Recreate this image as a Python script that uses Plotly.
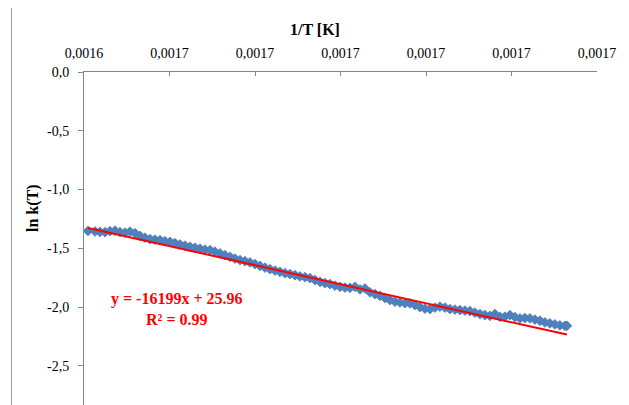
import plotly.graph_objects as go

# ---- data ----
INV_T = [
    0.00168452, 0.00168534, 0.00168592, 0.00168651, 0.00168709, 0.00168768,
    0.00168826, 0.00168885, 0.00168943, 0.00169002, 0.00169060, 0.00169118,
    0.00169177, 0.00169235, 0.00169294, 0.00169352, 0.00169411, 0.00169469,
    0.00169528, 0.00169586, 0.00169645, 0.00169703, 0.00169762, 0.00169820,
    0.00169879, 0.00169937, 0.00169996, 0.00170054, 0.00170113, 0.00170171,
    0.00170230, 0.00170288, 0.00170346, 0.00170405, 0.00170463, 0.00170522,
    0.00170580, 0.00170639, 0.00170697, 0.00170756, 0.00170814, 0.00170873,
    0.00170931, 0.00170990, 0.00171048, 0.00171107, 0.00171165, 0.00171223,
    0.00171282, 0.00171340, 0.00171399, 0.00171457, 0.00171516, 0.00171574,
    0.00171633, 0.00171691, 0.00171750, 0.00171808, 0.00171867, 0.00171925,
    0.00171984, 0.00172042, 0.00172100, 0.00172159, 0.00172217, 0.00172276,
    0.00172334, 0.00172393, 0.00172451, 0.00172510, 0.00172568, 0.00172627,
    0.00172685, 0.00172744, 0.00172802, 0.00172861, 0.00172919, 0.00172977,
    0.00173036, 0.00173094, 0.00173153, 0.00173211, 0.00173270, 0.00173328,
    0.00173387, 0.00173445, 0.00173504, 0.00173562, 0.00173621, 0.00173679,
    0.00173738, 0.00173796, 0.00173854, 0.00173913, 0.00173971, 0.00174030,
    0.00174053,
]
LN_K = [
    -1.353, -1.357, -1.361, -1.363, -1.355, -1.350,
    -1.363, -1.367, -1.359, -1.372, -1.395, -1.410,
    -1.423, -1.427, -1.431, -1.440, -1.446, -1.457,
    -1.468, -1.478, -1.488, -1.495, -1.503, -1.512,
    -1.516, -1.529, -1.544, -1.559, -1.573, -1.588,
    -1.601, -1.610, -1.621, -1.635, -1.650, -1.665,
    -1.678, -1.690, -1.701, -1.712, -1.720, -1.729,
    -1.740, -1.746, -1.754, -1.771, -1.786, -1.797,
    -1.805, -1.818, -1.828, -1.835, -1.837, -1.828,
    -1.850, -1.842, -1.876, -1.890, -1.905, -1.924,
    -1.941, -1.954, -1.961, -1.967, -1.969, -1.984,
    -2.001, -2.014, -2.018, -2.005, -1.997, -2.005,
    -2.018, -2.022, -2.026, -2.031, -2.035, -2.048,
    -2.060, -2.069, -2.075, -2.060, -2.083, -2.082,
    -2.069, -2.086, -2.097, -2.094, -2.097, -2.107,
    -2.117, -2.131, -2.139, -2.148, -2.156, -2.160,
    -2.160,
]

SLOPE = -16199
INTERCEPT = 25.96
R2 = 0.99

X_RANGE = [0.00168405, 0.00174405]
X_TICK_VALUES = [0.00168405, 0.00169405, 0.00170405, 0.00171405,
                 0.00172405, 0.00173405, 0.00174405]
X_TICK_LABELS = ["0,0016", "0,0017", "0,0017", "0,0017", "0,0017", "0,0017", "0,0017"]
Y_TICK_VALUES = [0.0, -0.5, -1.0, -1.5, -2.0, -2.5]
Y_TICK_LABELS = ["0,0", "-0,5", "-1,0", "-1,5", "-2,0", "-2,5"]

X_TITLE = "1/T [K]"
Y_TITLE = "ln k(T)"

# ---- figure ----
FONT = "Liberation Serif"
AXIS_GREY = "#868686"

trend_x = [min(INV_T), max(INV_T)]
trend_y = [SLOPE * v + INTERCEPT for v in trend_x]

fig = go.Figure()
fig.add_trace(go.Scatter(
    x=INV_T, y=LN_K, mode="markers",
    marker=dict(symbol="diamond", size=7.5, color="#4F81BD",
                line=dict(width=0.8, color="#4A7EBB")),
    showlegend=False, cliponaxis=False,
))
fig.add_trace(go.Scatter(
    x=trend_x, y=trend_y, mode="lines",
    line=dict(color="#FF0000", width=2),
    showlegend=False,
))

# The page body has an 8px margin, so the figure is drawn 8px smaller
# and every position is given in window pixels minus that offset.
OFF = 8
W, H = 629 - OFF, 405 - OFF
L, R, T, B = 84 - OFF, 629 - 597, 72 - OFF, 0
pw, ph = W - L - R, H - T - B


def px(xw):
    return (xw - OFF - L) / pw


def py(yw):
    return (H - B - (yw - OFF)) / ph


fig.update_layout(
    width=W, height=H,
    margin=dict(l=L, r=R, t=T, b=B, autoexpand=False),
    paper_bgcolor="white", plot_bgcolor="white",
    font=dict(family=FONT, size=14, color="black"),
    xaxis=dict(
        side="top", range=X_RANGE,
        tickmode="array", tickvals=X_TICK_VALUES, ticktext=X_TICK_LABELS,
        ticks="inside", ticklen=4, tickcolor=AXIS_GREY, tickwidth=1,
        showline=True, linecolor=AXIS_GREY, linewidth=1,
        showgrid=False, zeroline=False,
        ticklabelstandoff=7,
        tickfont=dict(family=FONT, size=14, color="black"),
    ),
    yaxis=dict(
        range=[-2.834, 0],
        tickmode="array", tickvals=Y_TICK_VALUES, ticktext=Y_TICK_LABELS,
        ticks="outside", ticklen=5, tickcolor=AXIS_GREY, tickwidth=1,
        showline=True, linecolor=AXIS_GREY, linewidth=1,
        showgrid=False, zeroline=False,
        ticklabelstandoff=6,
        tickfont=dict(family=FONT, size=14, color="black"),
    ),
    shapes=[dict(
        type="rect", xref="paper", yref="paper",
        x0=px(11.5), x1=px(625.5), y0=py(430), y1=py(7.5),
        line=dict(color="#9a9a9a", width=1), fillcolor="rgba(0,0,0,0)",
        layer="below",
    )],
    annotations=[
        dict(text="<b>%s</b>" % X_TITLE, xref="paper", yref="paper",
             x=px(315), y=py(30), showarrow=False,
             font=dict(family=FONT, size=16, color="black"),
             xanchor="center", yanchor="middle"),
        dict(text="<b>%s</b>" % Y_TITLE, xref="paper", yref="paper",
             x=px(33), y=py(208), showarrow=False, textangle=-90,
             font=dict(family=FONT, size=16, color="black"),
             xanchor="center", yanchor="middle"),
        dict(text="<b>y = %dx + %.2f<br>R² = %.2f</b>" % (SLOPE, INTERCEPT, R2),
             xref="paper", yref="paper",
             x=px(177), y=py(308.5), showarrow=False, align="center",
             font=dict(family=FONT, size=16, color="#FF0000"),
             xanchor="center", yanchor="middle"),
    ],
)

fig.write_html("out.html")
